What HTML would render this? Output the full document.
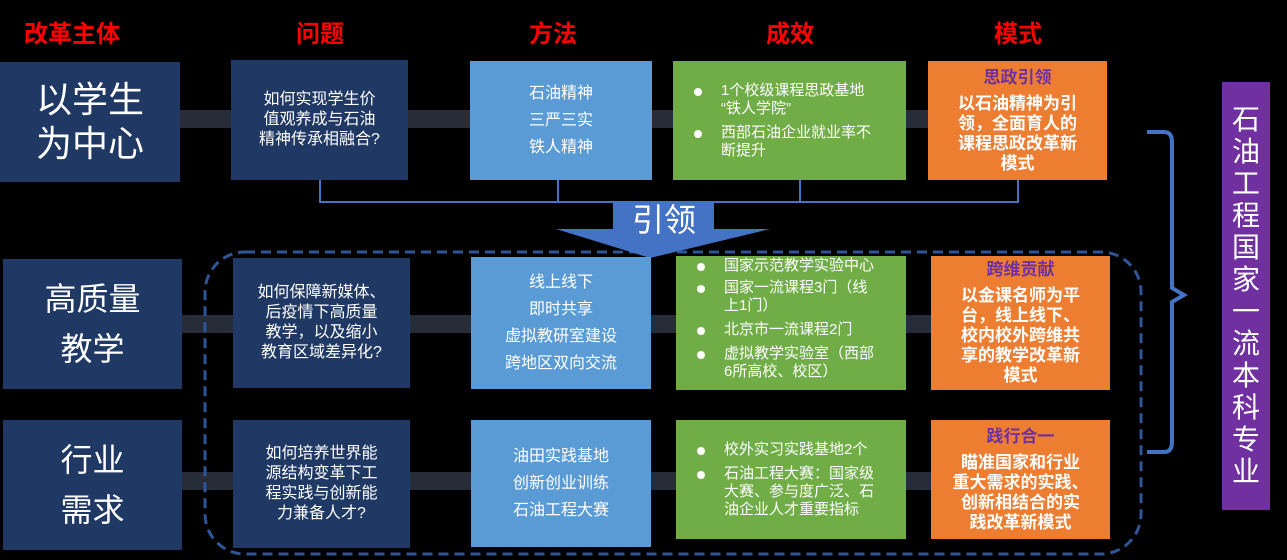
<!DOCTYPE html>
<html><head><meta charset="utf-8"><style>
body{margin:0;width:1287px;height:560px;background:#000;position:relative;overflow:hidden;font-family:"Liberation Sans","Noto Sans CJK SC",sans-serif;color:#fff}
.b{position:absolute;display:flex;flex-direction:column;justify-content:center;align-items:center;text-align:center;box-sizing:border-box}
.h{position:absolute;color:#f00;font-weight:bold;font-size:24px;top:14px;transform:translateX(-50%)}
.n{background:#1f3864}
.m{background:#5b9bd5;font-size:16px;line-height:27px}
.g{background:#70ad47;font-size:15px;line-height:18px;align-items:flex-start;padding-left:48px;padding-right:4px;text-align:left}
.g div{position:relative;margin:3px 0;white-space:nowrap}
.g div:before{content:"";position:absolute;left:-27px;top:6px;width:8px;height:8px;border-radius:50%;background:#fff}
.o{background:#ed7d31;font-size:17px;line-height:20px;padding:0 4px;font-weight:bold}
.o .t{color:#7030a0;margin-bottom:6px}
.bar{position:absolute;background:#262d38;height:18px}
</style></head><body>
<div class="h" style="left:72px">改革主体</div>
<div class="h" style="left:320px">问题</div>
<div class="h" style="left:553px">方法</div>
<div class="h" style="left:790px">成效</div>
<div class="h" style="left:1018px">模式</div>

<div class="bar" style="left:180px;top:110px;width:800px"></div>
<div class="bar" style="left:180px;top:315px;width:800px"></div>
<div class="bar" style="left:180px;top:472px;width:800px"></div>

<svg style="position:absolute;left:0;top:0" width="1287" height="560">
<path d="M320 180 V202 H1018 V180 M558 180 V202 M800 180 V202" fill="none" stroke="#4472c4" stroke-width="2"/>
<rect x="205" y="252" width="936" height="302" rx="40" fill="none" stroke="#2f5597" stroke-width="3" stroke-dasharray="10 6"/>
<path d="M1147 132 H1164 Q1172 132 1172 142 V288 L1184 295 L1172 302 V442 Q1172 452 1164 452 H1147" fill="none" stroke="#4472c4" stroke-width="4"/>
<path d="M613 202 H714 V229 H770 L650 258 L556 229 H613 Z" fill="#4472c4"/>
</svg>
<div style="position:absolute;left:600px;top:198px;width:128px;text-align:center;font-size:32px;line-height:44px">引领</div>

<div class="b n" style="left:0;top:62px;width:180px;height:120px;font-size:36px;line-height:44px">以学生<br>为中心</div>
<div class="b n" style="left:3px;top:259px;width:179px;height:130px;font-size:32px;line-height:50px">高质量<br>教学</div>
<div class="b n" style="left:3px;top:420px;width:179px;height:130px;font-size:32px;line-height:50px">行业<br>需求</div>

<div class="b n" style="left:231px;top:60px;width:177px;height:120px;font-size:16px;line-height:20px">如何实现学生价<br>值观养成与石油<br>精神传承相融合?</div>
<div class="b n" style="left:233px;top:258px;width:177px;height:130px;font-size:16px;line-height:20px">如何保障新媒体、<br>后疫情下高质量<br>教学，以及缩小<br>教育区域差异化?</div>
<div class="b n" style="left:233px;top:420px;width:177px;height:128px;font-size:16px;line-height:20px">如何培养世界能<br>源结构变革下工<br>程实践与创新能<br>力兼备人才?</div>

<div class="b m" style="left:470px;top:61px;width:182px;height:119px">石油精神<br>三严三实<br>铁人精神</div>
<div class="b m" style="left:471px;top:257px;width:180px;height:132px">线上线下<br>即时共享<br>虚拟教研室建设<br>跨地区双向交流</div>
<div class="b m" style="left:471px;top:420px;width:180px;height:127px">油田实践基地<br>创新创业训练<br>石油工程大赛</div>

<div class="b g" style="left:673px;top:61px;width:233px;height:119px"><div>1个校级课程思政基地<br>“铁人学院”</div><div>西部石油企业就业率不<br>断提升</div></div>
<div class="b g" style="left:676px;top:256px;width:230px;height:134px;justify-content:flex-start"><div style="margin:1px 0">国家示范教学实验中心</div><div>国家一流课程3门（线<br>上1门）</div><div>北京市一流课程2门</div><div>虚拟教学实验室（西部<br>6所高校、校区）</div></div>
<div class="b g" style="left:676px;top:420px;width:230px;height:119px"><div>校外实习实践基地2个</div><div>石油工程大赛：国家级<br>大赛、参与度广泛、石<br>油企业人才重要指标</div></div>

<div class="b o" style="left:928px;top:61px;width:179px;height:119px"><div class="t">思政引领</div>以石油精神为引<br>领，全面育人的<br>课程思政改革新<br>模式</div>
<div class="b o" style="left:931px;top:256px;width:179px;height:134px"><div class="t">跨维贡献</div>以金课名师为平<br>台，线上线下、<br>校内校外跨维共<br>享的教学改革新<br>模式</div>
<div class="b o" style="left:931px;top:420px;width:179px;height:119px"><div class="t">践行合一</div>瞄准国家和行业<br>重大需求的实践、<br>创新相结合的实<br>践改革新模式</div>

<div class="b" style="left:1222px;top:82px;width:48px;height:428px;background:#7030a0;font-size:28px;line-height:32px">石<br>油<br>工<br>程<br>国<br>家<br>一<br>流<br>本<br>科<br>专<br>业</div>
</body></html>
